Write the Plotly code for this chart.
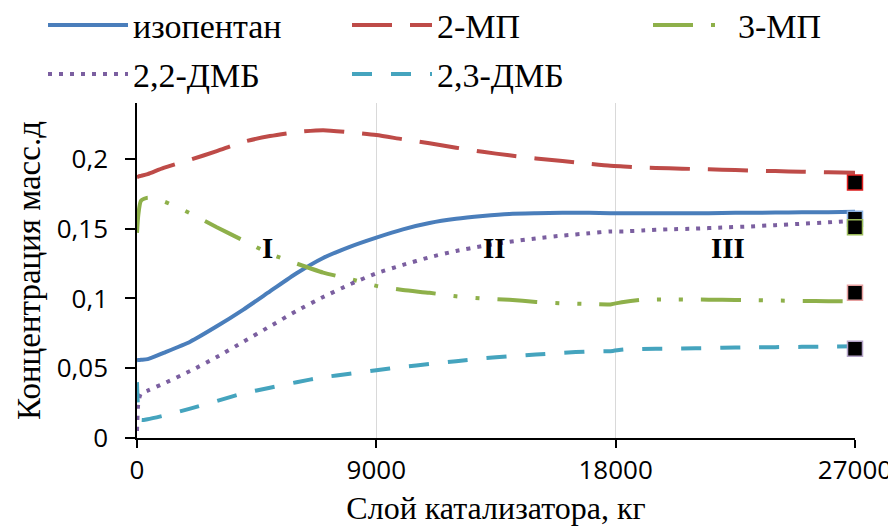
import plotly.graph_objects as go

x = [0, 50, 150, 400, 1000, 2000, 3000, 4000, 5000, 6000, 7000, 8000, 9000,
     10000, 11000, 12000, 13000, 14000, 15000, 16000, 17000, 17800, 18300,
     19000, 20000, 21000, 22000, 23000, 24000, 25000, 26000, 27000]

isopentane = [0.0557, 0.0558, 0.056, 0.0565, 0.061, 0.069, 0.080, 0.092, 0.105, 0.118,
              0.129, 0.137, 0.1436, 0.1495, 0.154, 0.157, 0.159, 0.1605, 0.161, 0.1613,
              0.1613, 0.161, 0.161, 0.161, 0.161, 0.161, 0.1612, 0.1614, 0.1615, 0.1617,
              0.1618, 0.162]
mp2 = [0.187, 0.1873, 0.1878, 0.189, 0.1935, 0.1993, 0.2055, 0.2122, 0.2163, 0.2192,
       0.2205, 0.219, 0.217, 0.214, 0.2112, 0.208, 0.205, 0.2025, 0.2003, 0.1985,
       0.1965, 0.195, 0.1945, 0.1938, 0.1932, 0.1927, 0.1922, 0.1917, 0.1912, 0.1908,
       0.1904, 0.190]
mp3 = [0.147, 0.160, 0.170, 0.1722, 0.1695, 0.161, 0.151, 0.1415, 0.132, 0.125,
       0.1185, 0.114, 0.109, 0.106, 0.104, 0.1015, 0.100, 0.099, 0.0975, 0.0965,
       0.096, 0.0957, 0.0975, 0.099, 0.0993, 0.0992, 0.099, 0.0988, 0.0985, 0.0982,
       0.098, 0.0978]
dmb22 = [0.005, 0.025, 0.032, 0.034, 0.039, 0.048, 0.058, 0.069, 0.080, 0.091,
         0.101, 0.110, 0.118, 0.124, 0.1295, 0.134, 0.1375, 0.1405, 0.143, 0.145,
         0.1467, 0.148, 0.148, 0.1487, 0.1495, 0.150, 0.1508, 0.1515, 0.1525, 0.1535,
         0.1545, 0.1557]
dmb23 = [0.040, 0.020, 0.013, 0.0135, 0.016, 0.021, 0.0265, 0.032, 0.036, 0.040,
         0.0435, 0.046, 0.0486, 0.051, 0.053, 0.055, 0.057, 0.0585, 0.0598, 0.061,
         0.062, 0.0622, 0.0635, 0.0638, 0.064, 0.0643, 0.0646, 0.0649, 0.0651, 0.0653,
         0.0655, 0.0657]

exp_x = [27000, 27000, 27000, 27000, 27000]
exp_y = [0.183, 0.157, 0.151, 0.104, 0.064]
exp_border = ["#E02020", "#8DB3E2", "#9BBB59", "#E6A0A0", "#B3A2C7"]

names = ["изопентан", "2-МП", "3-МП", "2,2-ДМБ", "2,3-ДМБ"]
series = [isopentane, mp2, mp3, dmb22, dmb23]
colors = ["#4A7EBB", "#BE4B48", "#8EB04A", "#7B5FA0", "#45A4BE"]
dashes = ["solid", "40px,18px", "40px,18px,4px,18px,4px,18px", "4px,7px", "20px,19px"]
legend_ids = ["legend", "legend2", "legend3", "legend4", "legend5"]
legend_pos = [(-0.1309, 1.318), (0.2925, 1.318), (0.7117, 1.318),
              (-0.1309, 1.172), (0.2925, 1.172)]

y_ticks = [0, 0.05, 0.1, 0.15, 0.2]
y_ticktext = ["0", "0,05", "0,1", "0,15", "0,2"]
x_ticks = [0, 9000, 18000, 27000]
x_ticktext = ["0", "9000", "18000", "27000"]

zones = ["I", "II", "III"]
zone_x = [4925, 13460, 22220]
zone_y = [0.136, 0.136, 0.136]

SERIF = "Liberation Serif"
SANS = "Open Sans"

fig = go.Figure()
for n, s, c, d, lg in zip(names, series, colors, dashes, legend_ids):
    fig.add_trace(go.Scatter(x=x, y=s, name=n, mode="lines", legend=lg,
                             line=dict(color=c, width=4, dash=d, shape="spline", smoothing=0.6),
                             cliponaxis=False))

fig.add_trace(go.Scatter(x=exp_x, y=exp_y, mode="markers", showlegend=False,
                         marker=dict(symbol="square", size=15, color="black",
                                     line=dict(color=exp_border, width=1.5)),
                         cliponaxis=False))

for t, zx, zy in zip(zones, zone_x, zone_y):
    fig.add_annotation(x=zx, y=zy, text="<b>" + t + "</b>", showarrow=False,
                       font=dict(family=SERIF, size=29, color="black"),
                       xanchor="center", yanchor="middle")

legends = {}
for lg, (lx, ly) in zip(legend_ids, legend_pos):
    legends[lg] = dict(orientation="v", xanchor="left", yanchor="top", x=lx, y=ly,
                       font=dict(family=SERIF, size=34, color="black"),
                       itemwidth=80, bgcolor="rgba(0,0,0,0)")

fig.update_layout(
    width=896, height=528, autosize=False,
    font=dict(family=SERIF, color="black"),
    margin=dict(l=129, r=49, t=95, b=98, autoexpand=False),
    paper_bgcolor="white", plot_bgcolor="white",
    **legends,
    xaxis=dict(range=[0, 27000], tickvals=x_ticks, ticktext=x_ticktext,
               showgrid=True, gridcolor="#D9D9D9", gridwidth=1,
               showline=True, linecolor="black", linewidth=1.5,
               ticks="outside", ticklen=8, tickcolor="black", tickwidth=1.5,
               zeroline=False,
               tickfont=dict(family=SANS, size=26, color="black"),
               title=dict(text="Слой катализатора, кг", standoff=11,
                          font=dict(family=SERIF, size=32, color="black"))),
    yaxis=dict(range=[0, 0.24], tickvals=y_ticks, ticktext=y_ticktext,
               showgrid=False, showline=True, linecolor="black", linewidth=1.5,
               ticks="outside", ticklen=10, tickcolor="black", tickwidth=1.5,
               ticklabelstandoff=12, zeroline=False,
               tickfont=dict(family=SANS, size=26, color="black"),
               title=dict(text="Концентрация масс.д", standoff=6,
                          font=dict(family=SERIF, size=33, color="black"))),
)

fig.write_html("out.html")
